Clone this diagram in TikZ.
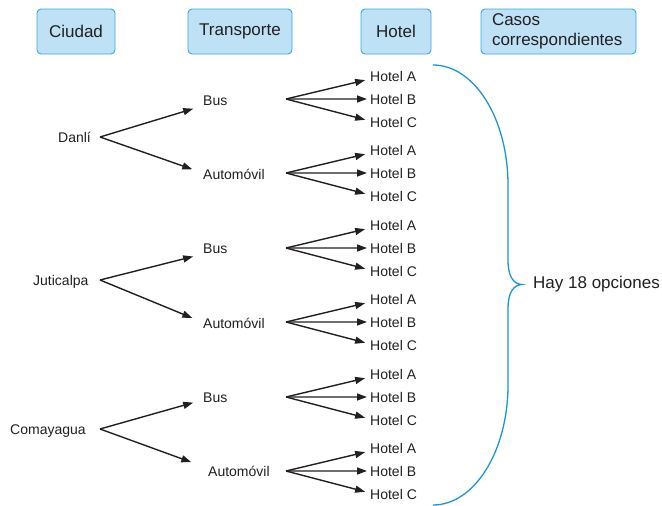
\documentclass[tikz,border=0pt]{standalone}
\usepackage{fontspec}
\setmainfont{Liberation Sans}
\usetikzlibrary{arrows.meta}
\definecolor{ink}{HTML}{231F20}
\definecolor{boxfill}{HTML}{BEE1F6}
\definecolor{boxline}{HTML}{3FA6DE}
\definecolor{bracecol}{HTML}{1A95D8}
\tikzset{
  header/.style={draw=boxline, fill=boxfill, line width=0.9pt, rounded corners=4pt,
    minimum height=45pt, inner sep=0pt, text=ink,
    font=\fontsize{17}{19.5}\selectfont},
  lbl/.style={anchor=base west, inner sep=0pt, text=ink,
    font=\fontsize{14}{16}\selectfont},
  big/.style={anchor=base west, inner sep=0pt, text=ink,
    font=\fontsize{17}{20}\selectfont},
  branch/.style={draw=ink, line width=1.4pt,
    -{Triangle[length=10pt,width=7pt]}, shorten >=5pt},
  bracepath/.style={draw=bracecol, line width=1.3pt}
}
\begin{document}
\begin{tikzpicture}[x=1pt,y=-1pt]
\useasboundingbox (0,0) rectangle (662,506);

% column headers
\node[header, minimum width=78pt]  (hc) at (76,31.5)  {Ciudad};
\node[header, minimum width=104pt] (ht) at (240,31.5) {Transporte};
\node[header, minimum width=70pt]  (hh) at (396,31.5) {Hotel};
\node[header, minimum width=155pt, align=left, text width=133pt] (hk) at (558.5,31.5)
  {Casos\\correspondientes};

% cities
\node[lbl] (c1) at (58,142) {Danlí};
\node[lbl] (c2) at (33,285) {Juticalpa};
\node[lbl] (c3) at (10,434) {Comayagua};
\coordinate (fc1) at (100,137);
\coordinate (fc2) at (100,280);
\coordinate (fc3) at (100,429);

% transport
\node[lbl] (b1) at (203,105) {Bus};
\node[lbl] (a1) at (203,179) {Automóvil};
\node[lbl] (b2) at (203,253) {Bus};
\node[lbl] (a2) at (203,328) {Automóvil};
\node[lbl] (b3) at (203,402) {Bus};
\node[lbl] (a3) at (208,476) {Automóvil};

\draw[branch] (fc1) -- ([xshift=-5pt,yshift=-7pt]b1.west);
\draw[branch] (fc1) -- ([xshift=-6pt,yshift=3pt]a1.west);
\draw[branch] (fc2) -- ([xshift=-5pt,yshift=-7pt]b2.west);
\draw[branch] (fc2) -- ([xshift=-6pt,yshift=3pt]a2.west);
\draw[branch] (fc3) -- ([xshift=-5pt,yshift=-4pt]b3.west);
\draw[branch] (fc3) -- ([xshift=-12pt,yshift=7pt]a3.west);

% hotels: six groups of three
\foreach \g/\y in {1/99,2/173,3/248,4/322,5/397,6/471}{
  \coordinate (f\g) at (286,\y);
  \node[lbl] (hA\g) at (370,\y-23+5) {Hotel A};
  \node[lbl] (hB\g) at (370,\y+5)    {Hotel B};
  \node[lbl] (hC\g) at (370,\y+23+5) {Hotel C};
  \draw[branch] (f\g) -- ([yshift=-3pt]hA\g.west);
  \draw[branch, shorten >=3pt] (f\g) -- (hB\g.west);
  \draw[branch] (f\g) -- ([yshift=1pt]hC\g.west);
}

% brace and total
\draw[bracepath] (433,65) .. controls (474.4,65) and (508,118.8) .. (508,185)
  -- (508,260) .. controls (508,276) and (513,284) .. (522,284.5)
  .. controls (513,285) and (508,293) .. (508,309)
  -- (508,385) .. controls (508,451.2) and (474.4,505) .. (433,505);
\node[big, anchor=west] (tot) at (533,284.5) {Hay 18 opciones};
\end{tikzpicture}
\end{document}
